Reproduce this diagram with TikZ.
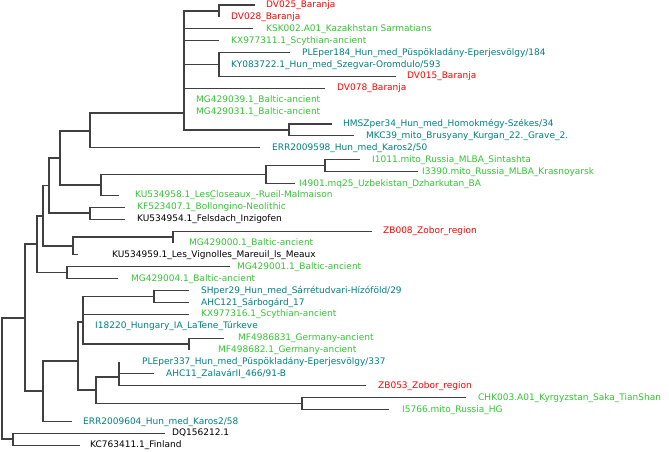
\documentclass[tikz,border=0pt]{standalone}
\usepackage{fontspec}
\setmainfont{DejaVu Sans}
\usepackage{tikz}
\definecolor{hunteal}{RGB}{0, 128, 128}
\definecolor{ancientgreen}{RGB}{51, 196, 51}
\definecolor{baranjared}{RGB}{255, 0, 0}
\definecolor{treegray}{RGB}{64, 64, 64}

\begin{document}
\begin{tikzpicture}[
  x=1pt, y=-1pt,
  branch/.style={line width=1.1pt, draw=treegray},
  taxon/.style={anchor=west, inner sep=0pt, font=\fontsize{9}{10}\selectfont, text height=6.5pt, text depth=1.5pt},
  hun/.style={taxon, text=hunteal},
  anc/.style={taxon, text=ancientgreen},
  bar/.style={taxon, text=baranjared},
  other/.style={taxon, text=black}
]
\useasboundingbox (0,0) rectangle (669,452);

% internal nodes
\coordinate (root) at (2,378);
\coordinate (nOut) at (13,439);
\coordinate (nL) at (25,318);
\coordinate (nK) at (43,391);
\coordinate (nJ) at (78,361);
\coordinate (nI) at (96,390);
\coordinate (nCHK) at (302,403.6);
\coordinate (nZC) at (119,377);
\coordinate (nH) at (83,322);
\coordinate (nMF) at (189,344);
\coordinate (nSH) at (154,296.5);
\coordinate (nG) at (37,244);
\coordinate (nMG) at (67,272.7);
\coordinate (nF) at (43,216);
\coordinate (nE) at (73,246);
\coordinate (nZB) at (173,237);
\coordinate (nD) at (49,185.5);
\coordinate (nKF) at (90,213);
\coordinate (nC) at (60,158);
\coordinate (nB) at (101,185);
\coordinate (nUz) at (266,174.5);
\coordinate (nSin) at (325,165.6);
\coordinate (nA) at (90,131);
\coordinate (nHM) at (289,130);
\coordinate (nTop) at (184,113);
\coordinate (nPLE) at (219,64.5);
\coordinate (nDV) at (219,11);

% branch tips
\coordinate (tDV025) at (255,5);
\coordinate (tDV028) at (219,16.9);
\coordinate (tKSK) at (253,28.8);
\coordinate (tKX311) at (219,40.7);
\coordinate (tPLE184) at (290,52.6);
\coordinate (tKY) at (219,64.5);
\coordinate (tDV015) at (396,76.4);
\coordinate (tDV078) at (325,88.3);
\coordinate (tMG039) at (184,100.2);
\coordinate (tMG031) at (184,112.1);
\coordinate (tHMSZ) at (332,124);
\coordinate (tMKC) at (354,135.9);
\coordinate (tERR598) at (260,147.8);
\coordinate (tI1011) at (360,159.7);
\coordinate (tI3390) at (418,171.6);
\coordinate (tI4901) at (295,183.5);
\coordinate (tKU958) at (119,195.4);
\coordinate (tKF) at (125,207.3);
\coordinate (tKU954) at (125,219.2);
\coordinate (tZB008) at (372,231.1);
\coordinate (tMG000) at (173,243);
\coordinate (tKU959) at (78,254.9);
\coordinate (tMG001) at (230,266.8);
\coordinate (tMG004) at (118,278.7);
\coordinate (tSH) at (189,290.6);
\coordinate (tAHC121) at (189,302.5);
\coordinate (tKX316) at (189,314.4);
\coordinate (tI18220) at (83,326.3);
\coordinate (tMF831) at (224,338.2);
\coordinate (tMF682) at (189,350.1);
\coordinate (tPLE337) at (119,362);
\coordinate (tAHC11) at (154,373.9);
\coordinate (tZB053) at (366,385.8);
\coordinate (tCHK) at (466,397.7);
\coordinate (tI5766) at (389,409.6);
\coordinate (tERR604) at (72,421.5);
\coordinate (tDQ) at (165,433.4);
\coordinate (tKC) at (80,445.3);

% taxa
\node[bar] (DV025) at (266,5) {DV025\_Baranja};
\node[bar] (DV028) at (231,16.9) {DV028\_Baranja};
\node[anc] (KSK) at (266,28.8) {KSK002.A01\_Kazakhstan Sarmatians};
\node[anc] (KX311) at (231,40.7) {KX977311.1\_Scythian-ancient};
\node[hun] (PLE184) at (302,52.6) {PLEper184\_Hun\_med\_Püspökladány-Eperjesvölgy/184};
\node[hun] (KY) at (231,64.5) {KY083722.1\_Hun\_med\_Szegvar-Oromdulo/593};
\node[bar] (DV015) at (407,76.4) {DV015\_Baranja};
\node[bar] (DV078) at (337,88.3) {DV078\_Baranja};
\node[anc] (MG039) at (196,100.2) {MG429039.1\_Baltic-ancient};
\node[anc] (MG031) at (196,112.1) {MG429031.1\_Baltic-ancient};
\node[hun] (HMSZ) at (343,124) {HMSZper34\_Hun\_med\_Homokmégy-Székes/34};
\node[hun] (MKC) at (366,135.9) {MKC39\_mito\_Brusyany\_Kurgan\_22.\_Grave\_2.};
\node[hun] (ERR598) at (272,147.8) {ERR2009598\_Hun\_med\_Karos2/50};
\node[anc] (I1011) at (372,159.7) {I1011.mito\_Russia\_MLBA\_Sintashta};
\node[anc] (I3390) at (422,171.6) {I3390.mito\_Russia\_MLBA\_Krasnoyarsk};
\node[anc] (I4901) at (299,183.5) {I4901.mq25\_Uzbekistan\_Dzharkutan\_BA};
\node[anc] (KU958) at (135,195.4) {KU534958.1\_Les\rlap{\_}Closeaux\_-Rueil-Malmaison};
\node[anc] (KF) at (137,207.3) {KF523407.1\_Bollongino-Neolithic};
\node[other] (KU954) at (137,219.2) {KU534954.1\_Felsdach\_Inzigofen};
\node[bar] (ZB008) at (383,231.1) {ZB008\_Zobor\_region};
\node[anc] (MG000) at (189,243) {MG429000.1\_Baltic-ancient};
\node[other] (KU959) at (112,254.9) {KU534959.1\_Les\_Vignolles\_Mareuil\_ls\_Meaux};
\node[anc] (MG001) at (237,266.8) {MG429001.1\_Baltic-ancient};
\node[anc] (MG004) at (131,278.7) {MG429004.1\_Baltic-ancient};
\node[hun] (SH) at (201,290.6) {SHper29\_Hun\_med\_Sárrétudvari-Hízóföld/29};
\node[hun] (AHC121) at (201,302.5) {AHC121\_Sárbogárd\_17};
\node[anc] (KX316) at (201,314.4) {KX977316.1\_Scythian-ancient};
\node[hun] (I18220) at (95,326.3) {I18220\_Hungary\_IA\_LaTene\_Túrkeve};
\node[anc] (MF831) at (238,338.2) {MF4986831\_Germany-ancient};
\node[anc] (MF682) at (218,350.1) {MF498682.1\_Germany-ancient};
\node[hun] (PLE337) at (142,362) {PLEper337\_Hun\_med\_Püspökladány-Eperjesvölgy/337};
\node[hun] (AHC11) at (166,373.9) {AHC11\_ZalavárII\_466/91-B};
\node[bar] (ZB053) at (378,385.8) {ZB053\_Zobor\_region};
\node[anc] (CHK) at (478,397.7) {CHK003.A01\_Kyrgyzstan\_Saka\_TianShan};
\node[anc] (I5766) at (402,409.6) {I5766.mito\_Russia\_HG};
\node[hun] (ERR604) at (83,421.5) {ERR2009604\_Hun\_med\_Karos2/58};
\node[other] (DQ) at (172,433.4) {DQ156212.1};
\node[other] (KC) at (90,445.3) {KC763411.1\_Finland};

% branches
\draw[branch] (root) |- (nL) (root) |- (nOut);
\draw[branch] (nOut) |- (tDQ) (nOut) |- (tKC);
\draw[branch] (nL) |- (nG) (nL) |- (nK);
\draw[branch] (nK) |- (nJ) (nK) |- (tERR604);
\draw[branch] (nJ) |- (nH) (nJ) |- (nI);
\draw[branch] (nI) |- (nZC) (nI) |- (nCHK);
\draw[branch] (nCHK) |- (tCHK) (nCHK) |- (tI5766);
\draw[branch] (nZC) |- (tPLE337) (nZC) |- (tAHC11) (nZC) |- (tZB053);
\draw[branch] (nH) |- (nSH) (nH) |- (tKX316) (nH) |- (tI18220) (nH) |- (nMF);
\draw[branch] (nSH) |- (tSH) (nSH) |- (tAHC121);
\draw[branch] (nMF) |- (tMF831) (nMF) |- (tMF682);
\draw[branch] (nG) |- (nF) (nG) |- (nMG);
\draw[branch] (nMG) |- (tMG001) (nMG) |- (tMG004);
\draw[branch] (nF) |- (nD) (nF) |- (nE);
\draw[branch] (nE) |- (nZB) (nE) |- (tKU959);
\draw[branch] (nZB) |- (tZB008) (nZB) |- (tMG000);
\draw[branch] (nD) |- (nC) (nD) |- (nKF);
\draw[branch] (nKF) |- (tKF) (nKF) |- (tKU954);
\draw[branch] (nC) |- (nA) (nC) |- (nB);
\draw[branch] (nB) |- (nUz) (nB) |- (tKU958);
\draw[branch] (nUz) |- (nSin) (nUz) |- (tI4901);
\draw[branch] (nSin) |- (tI1011) (nSin) |- (tI3390);
\draw[branch] (nA) |- (nTop) (nA) |- (tERR598);
\draw[branch] (nTop) |- (nDV) (nTop) |- (tKSK) (nTop) |- (tKX311) (nTop) |- (nPLE)
  (nTop) |- (tDV078) (nTop) |- (tMG039) (nTop) |- (tMG031) (nTop) |- (nHM);
\draw[branch] (nDV) |- (tDV025) (nDV) |- (tDV028);
\draw[branch] (nPLE) |- (tPLE184) (nPLE) |- (tKY) (nPLE) |- (tDV015);
\draw[branch] (nHM) |- (tHMSZ) (nHM) |- (tMKC);
\end{tikzpicture}
\end{document}
